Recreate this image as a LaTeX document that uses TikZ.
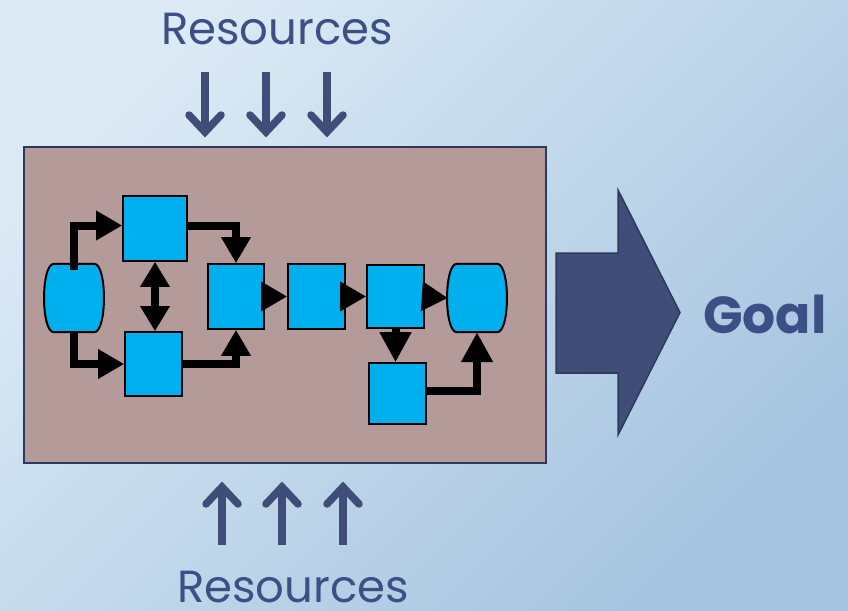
\documentclass[tikz,border=0pt]{standalone}
\usepackage{fontspec}
\setmainfont{Poppins}
\usetikzlibrary{arrows.meta}

\definecolor{bgtl}{RGB}{220,234,245}
\definecolor{bgbr}{RGB}{166,196,224}
\definecolor{sysfill}{RGB}{181,154,154}
\definecolor{sysedge}{RGB}{46,56,92}
\definecolor{navy}{RGB}{63,77,120}
\definecolor{textblue}{RGB}{60,80,134}
\definecolor{stepcyan}{RGB}{0,176,238}

\newcommand{\barrelpath}[1]{%
  \draw[barreledge]
    ([xshift=9pt]#1.north west) -- ([xshift=-9pt]#1.north east)
    .. controls ([xshift=4pt]#1.north east) and ([xshift=4pt]#1.south east) ..
    ([xshift=-9pt]#1.south east) -- ([xshift=9pt]#1.south west)
    .. controls ([xshift=-4pt]#1.south west) and ([xshift=-4pt]#1.north west) ..
    cycle;}

\begin{document}
\begin{tikzpicture}[x=1pt,y=-1pt,
  reslabel/.style={text=textblue, font=\fontsize{45}{50}\selectfont, inner sep=0pt, anchor=base},
  goallabel/.style={text=textblue, font=\bfseries\fontsize{52}{60}\selectfont, inner sep=0pt, anchor=base west},
  sysbox/.style={draw=sysedge, fill=sysfill, line width=2.2pt, minimum width=522pt, minimum height=316pt, inner sep=0pt},
  procbox/.style={draw=black, fill=stepcyan, line width=1.6pt, inner sep=0pt},
  barrelnode/.style={draw=none, inner sep=0pt, minimum width=58pt, minimum height=68pt},
  barreledge/.style={draw=black, fill=stepcyan, line width=2pt},
  flow/.style={draw=black, line width=8pt, line join=miter, -{Triangle[length=26pt, width=28pt]}},
  flowbig/.style={draw=black, line width=8pt, -{Triangle[length=30pt, width=30pt]}},
  flowboth/.style={draw=black, line width=8pt, {Triangle[length=25pt, width=28pt]}-{Triangle[length=25pt, width=28pt]}},
  resshaft/.style={draw=navy, line width=7.5pt},
  reshead/.style={draw=navy, line width=7.5pt, line cap=round, line join=miter},
  bigarrow/.style={draw=sysedge, fill=navy, line width=1.5pt, line join=miter}
]
\useasboundingbox (0,0) rectangle (848,610);

% backdrop
\shade[top color=bgtl, bottom color=bgbr, shading angle=45] (0,0) rectangle (848,610);

% resource labels and arrows
\node[reslabel] (restop) at (277,45) {Resources};
\node[reslabel] (resbot) at (293,602) {Resources};

\foreach \x in {205,266,327} {
  \draw[resshaft] (\x,72) -- (\x,131);
  \draw[reshead] (\x-16,115) -- (\x,132) -- (\x+16,115);
}
\foreach \x in {222,282,343} {
  \draw[resshaft] (\x,545) -- (\x,488);
  \draw[reshead] (\x-16,504) -- (\x,487) -- (\x+16,504);
}

% the system box
\node[sysbox] (sys) at (285,305) {};

% output arrow and goal
\draw[bigarrow] (556,253) -- (618,253) -- (618,190) -- (680,312.5) -- (618,435) -- (618,373) -- (556,373) -- cycle;
\node[goallabel] (goal) at (703,333) {Goal};

% process steps
\node[barrelnode] (L) at (74,298) {};
\node[barrelnode] (R) at (477,298) {};
\barrelpath{L}
\barrelpath{R}

\node[procbox, minimum width=64pt, minimum height=65pt] (b1) at (155,228.5) {};
\node[procbox, minimum width=57pt, minimum height=64pt] (b2) at (153.5,364) {};
\node[procbox, minimum width=56pt, minimum height=65pt] (b3) at (236,296.5) {};
\node[procbox, minimum width=57pt, minimum height=65pt] (b4) at (316.5,296.5) {};
\node[procbox, minimum width=57pt, minimum height=63pt] (b5) at (395.5,296.5) {};
\node[procbox, minimum width=57pt, minimum height=61pt] (b6) at (397.5,393.5) {};

% connectors
\draw[flow] ([yshift=-6pt]L.north) |- ([yshift=3pt]b1.west);
\draw[flow] (L.south) |- (b2.west);
\draw[flow] ([yshift=3pt]b1.east) -| (b3.north);
\draw[flow] (b2.east) -| (b3.south);
\draw[flowboth] (b1.south) -- (b1.south |- b2.north);
\draw[flow] (b3.east) -- (b4.west);
\draw[flow] (b4.east) -- (b5.west);
\draw[flow] (b5.east) -- (R.west);
\draw[flowbig] (b5.south) -- (b5.south |- b6.north);
\draw[flowbig] ([yshift=3pt]b6.east) -| (R.south);
\end{tikzpicture}
\end{document}
